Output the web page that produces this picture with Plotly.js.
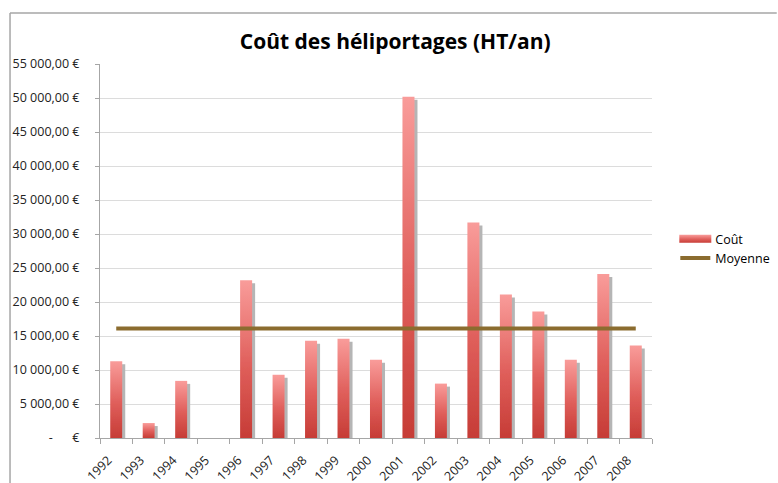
<!DOCTYPE html>
<html><head><meta charset="utf-8">
<script src="https://cdn.plot.ly/plotly-3.0.1.min.js"></script>
<style>body{margin:0;background:#fff}#c{width:778px;height:483px}</style>
</head><body><div id="c"></div>
<script>
const years = ["1992","1993","1994","1995","1996","1997","1998","1999","2000","2001","2002","2003","2004","2005","2006","2007","2008"];
const cout = [11300,2200,8400,0,23200,9300,14300,14600,11500,50200,8000,31700,21100,18600,11500,24100,13600];
const moyenne = [16100,16100,16100,16100,16100,16100,16100,16100,16100,16100,16100,16100,16100,16100,16100,16100,16100];
const yTickVals = [0,5000,10000,15000,20000,25000,30000,35000,40000,45000,50000,55000];
const yTickText = ["-\u00a0\u00a0\u00a0\u00a0\u00a0\u00a0€","5 000,00 €","10 000,00 €","15 000,00 €","20 000,00 €","25 000,00 €","30 000,00 €","35 000,00 €","40 000,00 €","45 000,00 €","50 000,00 €","55 000,00 €"];

const font = "Open Sans, Noto Sans, sans-serif";
const traces = [
  {type:"bar", name:"Coût", x:years, y:cout, width:0.37,
   marker:{color:"#e06262", line:{width:0}}, hoverinfo:"x+y"},
  {type:"scatter", mode:"lines", name:"Moyenne", x:years, y:moyenne,
   line:{color:"#8b6c2f", width:4}}
];
const frame = {type:"line", xref:"paper", yref:"paper", line:{color:"#a6a6a6", width:1.5}};
const layout = {
  width:778, height:483,
  margin:{l:100, r:126, t:64, b:45, pad:0},
  paper_bgcolor:"#fff", plot_bgcolor:"#fff",
  font:{family:font, size:12.5, color:"#222"},
  title:{text:"<b>Coût des héliportages (HT/an)</b>", font:{family:font, size:21, color:"#000"},
         x:0.508, xref:"container", xanchor:"center", y:0.913, yref:"container", yanchor:"middle"},
  showlegend:true,
  legend:{xref:"container", x:0.868, xanchor:"left", yref:"container", y:0.485, yanchor:"middle",
          font:{family:font, size:12.5, color:"#000"}, tracegroupgap:4, itemwidth:30},
  xaxis:{type:"category", tickangle:-45, tickson:"boundaries", ticks:"outside", ticklen:5, tickcolor:"#a6a6a6",
         showline:true, linecolor:"#a6a6a6", linewidth:1, showgrid:false, automargin:false,
         tickfont:{family:font, size:12.5, color:"#222"}, ticklabelshift:-8, ticklabelstandoff:9, fixedrange:true},
  yaxis:{range:[0,55000], tickvals:yTickVals, ticktext:yTickText, ticks:"outside", ticklen:4, tickcolor:"#a6a6a6",
         showline:true, linecolor:"#a6a6a6", linewidth:1, gridcolor:"#dcdcdc", gridwidth:1, zeroline:false,
         automargin:false, ticklabelstandoff:13, tickfont:{family:font, size:12.5, color:"#222"}},
  shapes:[
    Object.assign({x0:-0.163, x1:1.226, y0:1.1364, y1:1.1364}, frame),
    Object.assign({x0:-0.163, x1:-0.163, y0:1.1364, y1:-0.13}, frame)
  ]
};
Plotly.newPlot("c", traces, layout, {displayModeBar:false, staticPlot:true}).then(function(gd){
  const ns = "http://www.w3.org/2000/svg";
  const svg = gd.querySelector("svg.main-svg");
  let defs = svg.querySelector("defs");
  if(!defs){defs = document.createElementNS(ns,"defs"); svg.insertBefore(defs, svg.firstChild);}
  const g = document.createElementNS(ns,"linearGradient");
  g.setAttribute("id","barGrad"); g.setAttribute("x1","0"); g.setAttribute("y1","0"); g.setAttribute("x2","0"); g.setAttribute("y2","1");
  [["0%","#f99c9a"],["55%","#df5e5a"],["100%","#c63c36"]].forEach(function(s){
    const st = document.createElementNS(ns,"stop"); st.setAttribute("offset",s[0]); st.setAttribute("stop-color",s[1]); g.appendChild(st);
  });
  defs.appendChild(g);
  const f = document.createElementNS(ns,"filter");
  f.setAttribute("id","barShadow"); f.setAttribute("x","-50%"); f.setAttribute("y","-10%"); f.setAttribute("width","200%"); f.setAttribute("height","120%");
  const ds = document.createElementNS(ns,"feDropShadow");
  ds.setAttribute("dx","3"); ds.setAttribute("dy","3"); ds.setAttribute("stdDeviation","0.4"); ds.setAttribute("flood-color","#b5b5b5"); ds.setAttribute("flood-opacity","1");
  f.appendChild(ds); defs.appendChild(f);
  gd.querySelectorAll(".barlayer .point path").forEach(function(p){
    p.style.fill = "url(#barGrad)"; p.setAttribute("filter","url(#barShadow)");
  });
  const lp = gd.querySelectorAll(".legend .traces");
  if(lp.length){
    const bp = lp[0].querySelector(".legendpoints path");
    if(bp){ bp.setAttribute("d","M-16,4H16V-4H-16Z"); bp.style.fill = "url(#barGrad)"; bp.style.stroke="none"; }
  }
});
</script></body></html>
